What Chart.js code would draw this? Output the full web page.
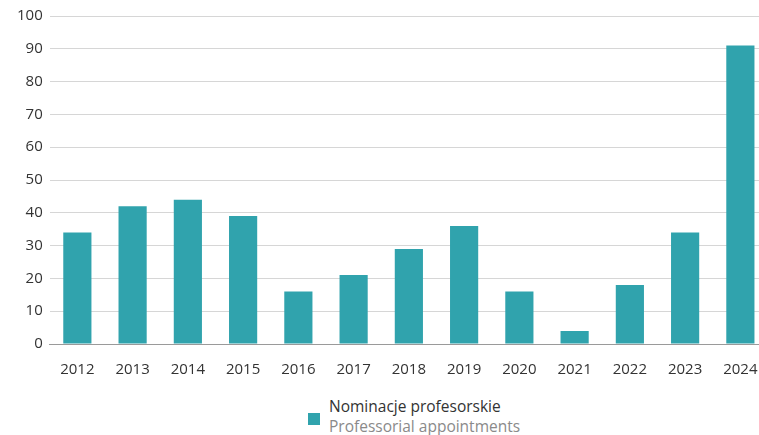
<!DOCTYPE html>
<html>
<head>
<meta charset="utf-8">
<script src="https://cdn.jsdelivr.net/npm/chart.js@4/dist/chart.umd.min.js"></script>
<style>
    html, body { margin: 0; padding: 0; background: #fff; overflow: hidden; }
    #wrap { position: absolute; left: 0; top: 0; width: 768px; height: 388px; }
    .legend { position: absolute; left: 308px; top: 396px; font-family: "Open Sans", sans-serif; font-size: 15.5px; line-height: 20px; }
    .legend .box { position: absolute; left: 0; top: 17px; width: 12px; height: 12px; }
    .legend .txt { position: absolute; left: 21px; top: 0; white-space: nowrap; }
    .legend .pl { color: #333; }
    .legend .en { color: #8a8a8a; }
</style>
</head>
<body>
<div id="wrap"><canvas id="chart"></canvas></div>
<div class="legend">
    <div class="box" id="legend-box"></div>
    <div class="txt"><div class="pl" id="label-pl"></div><div class="en" id="label-en"></div></div>
</div>
<script>
const years = ['2012', '2013', '2014', '2015', '2016', '2017', '2018', '2019', '2020', '2021', '2022', '2023', '2024'];
const appointments = [34, 42, 44, 39, 16, 21, 29, 36, 16, 4, 18, 34, 91];
const seriesLabel = ['Nominacje profesorskie', 'Professorial appointments'];
const yTicks = [0, 10, 20, 30, 40, 50, 60, 70, 80, 90, 100];

const barColor = '#30a3ad';
const fontFamily = '"Open Sans", sans-serif';

document.getElementById('legend-box').style.background = barColor;
document.getElementById('label-pl').textContent = seriesLabel[0];
document.getElementById('label-en').textContent = seriesLabel[1];

new Chart(document.getElementById('chart'), {
    type: 'bar',
    data: {
        labels: years,
        datasets: [{
            label: seriesLabel.join(' / '),
            data: appointments,
            backgroundColor: barColor,
            barPercentage: 0.51,
            categoryPercentage: 1
        }]
    },
    options: {
        responsive: true,
        maintainAspectRatio: false,
        animation: false,
        layout: { padding: { top: 14, left: 10, right: 0, bottom: 0 } },
        plugins: {
            legend: { display: false },
            tooltip: { enabled: false }
        },
        scales: {
            x: {
                grid: { display: false },
                border: { display: true, color: '#9a9a9a', width: 1 },
                ticks: { color: '#333', font: { family: fontFamily, size: 15 }, padding: 9 }
            },
            y: {
                min: 0,
                max: 100,
                afterBuildTicks: axis => { axis.ticks = yTicks.map(v => ({ value: v })); },
                grid: { color: '#d6d6d6', drawTicks: false },
                border: { display: false },
                ticks: { color: '#333', font: { family: fontFamily, size: 15 }, padding: 7 }
            }
        }
    }
});
</script>
</body>
</html>
